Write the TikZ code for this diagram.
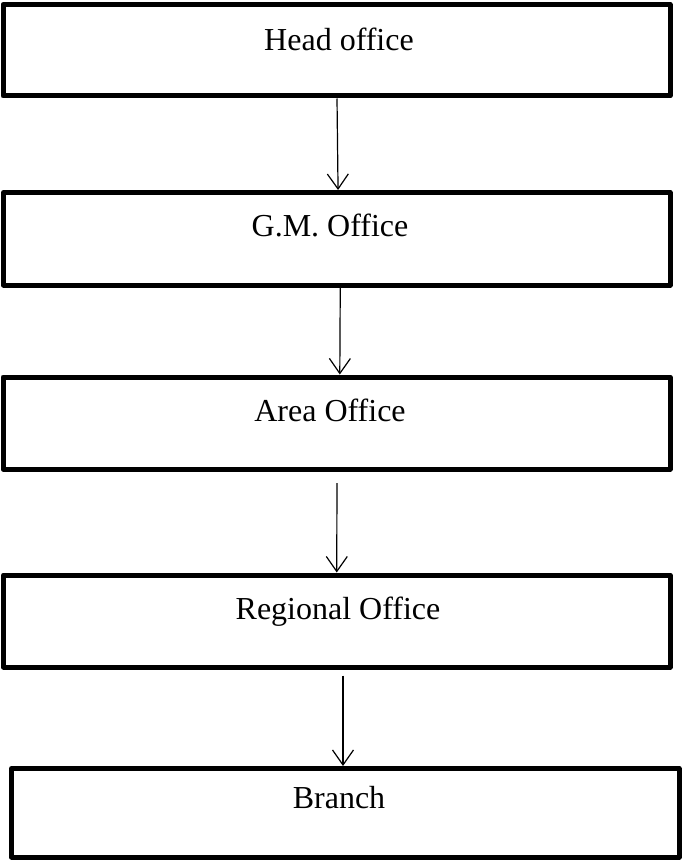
\documentclass[tikz,border=0pt]{standalone}
\usepackage{fontspec}
\setmainfont{Liberation Serif}
\usetikzlibrary{arrows.meta,positioning}
\tikzset{
  box/.style={draw,line width=5pt,line join=round,minimum width=667pt,minimum height=92pt,inner sep=0pt},
  lbl/.style={anchor=base,inner sep=0pt,font=\fontsize{32pt}{38pt}\selectfont},
  ar/.style={-{Straight Barb[length=15pt,width=21pt]},line width=1.2pt},
}
\begin{document}
\begin{tikzpicture}[x=1pt,y=-1pt]
\useasboundingbox (0,0) rectangle (681,861);
\node[box,minimum height=91.5pt] (head) at (336.5,50.25) {};
\node[box,minimum width=666.5pt,minimum height=92.5pt] (gm) at (336.75,238.75) {};
\node[box] (area) at (336.5,423) {};
\node[box,minimum width=666.5pt] (reg) at (336.75,621) {};
\node[box,minimum width=667.5pt,minimum height=88.5pt] (branch) at (345.25,812.75) {};
\node[lbl] (headt) at (339,51) {Head office};
\node[lbl] (gmt) at (330,236) {G.M. Office};
\node[lbl] (areat) at (330,421) {Area Office};
\node[lbl] (regt) at (338,619) {Regional Office};
\node[lbl] (brancht) at (339,808) {Branch};
\draw[ar] ([xshift=0.5pt]head.south) -- ([xshift=1.3pt]gm.north);
\draw[ar] ([xshift=3.5pt]gm.south) -- ([xshift=3.3pt]area.north);
\draw[ar,shorten <=11.5pt] ([xshift=0.5pt]area.south) -- ([xshift=0pt]reg.north);
\draw[ar,shorten <=6pt] ([xshift=6.25pt]reg.south) -- ([xshift=-2.25pt]branch.north);
\end{tikzpicture}
\end{document}
